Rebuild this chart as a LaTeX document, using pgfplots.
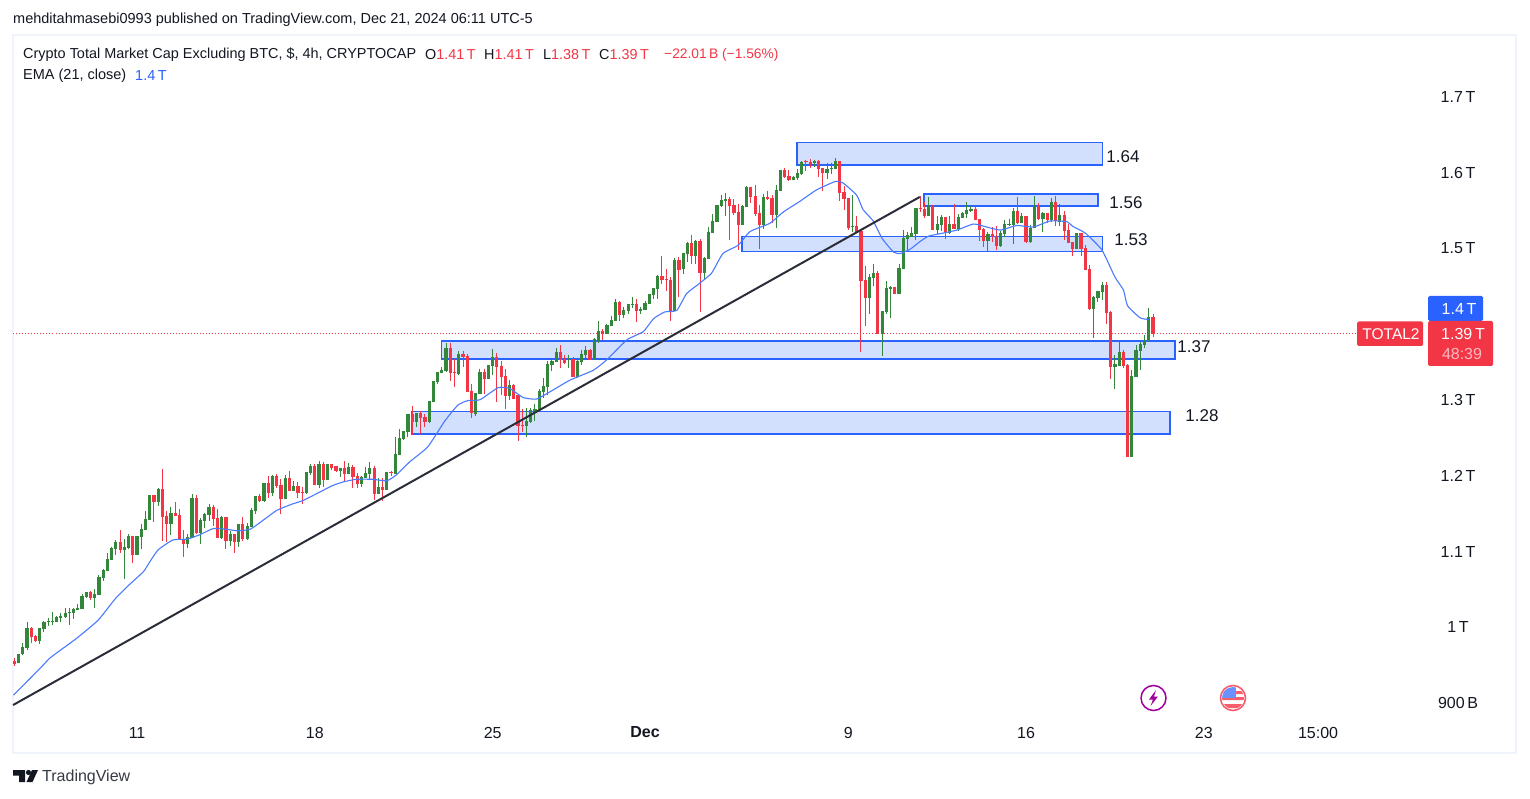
\documentclass[border=0pt]{standalone}
\usepackage{pgfplots}
\usepackage{pgfplotstable}
\usepackage{fontspec}
\pgfplotsset{compat=1.18}
\setmainfont{Liberation Sans}
\definecolor{tvgreen}{HTML}{33873A}
\definecolor{tvred}{HTML}{F23645}
\definecolor{tvblue}{HTML}{2962FF}
\definecolor{tvink}{HTML}{131722}
\definecolor{tvframe}{HTML}{F0F3FA}
\definecolor{zone}{HTML}{D2DFFD}
\pgfplotstableread{
x o h l c
1 951 964 951 964
2 964 978 962 973
3 971 1006 969 998
6 980 998 977 998
7 996 1007 993 1006
8 1005 1011 1000 1007
9 1006 1019 1002 1007
10 1006 1014 1006 1012
11 1011 1018 1006 1014
12 1012 1024 1011 1018
13 1017 1024 1002 1019
14 1018 1024 1010 1023
15 1022 1029 1022 1024
16 1023 1043 1023 1040
17 1039 1045 1037 1045
19 1037 1049 1024 1043
20 1041 1068 1041 1065
21 1064 1076 1060 1074
22 1073 1097 1073 1089
23 1087 1105 1087 1103
24 1102 1114 1094 1111
26 1101 1115 1062 1105
27 1103 1122 1102 1119
29 1094 1119 1094 1119
30 1118 1135 1102 1128
31 1127 1152 1127 1142
32 1140 1173 1140 1173
34 1164 1183 1159 1181
37 1135 1158 1121 1150
41 1109 1122 1103 1118
42 1117 1175 1117 1169
44 1123 1143 1109 1140
45 1139 1150 1130 1148
46 1147 1161 1139 1158
49 1117 1146 1115 1144
51 1113 1126 1106 1122
53 1111 1135 1105 1135
55 1115 1136 1114 1132
56 1131 1156 1131 1154
57 1152 1172 1148 1172
59 1165 1189 1164 1189
61 1176 1200 1172 1198
64 1168 1200 1168 1196
66 1179 1192 1179 1185
69 1176 1204 1175 1204
70 1202 1214 1200 1212
72 1187 1218 1183 1214
74 1193 1214 1193 1214
77 1205 1209 1197 1209
79 1201 1216 1201 1210
82 1188 1198 1184 1197
83 1196 1210 1196 1202
84 1201 1217 1194 1209
86 1175 1196 1175 1184
88 1180 1204 1180 1204
90 1201 1250 1201 1227
91 1226 1260 1226 1249
92 1247 1258 1246 1258
93 1257 1280 1250 1280
95 1270 1282 1263 1282
98 1270 1297 1268 1297
99 1296 1324 1296 1324
100 1323 1336 1320 1336
101 1334 1342 1334 1338
102 1337 1374 1336 1367
105 1333 1363 1332 1359
109 1280 1308 1278 1308
110 1307 1340 1307 1336
112 1326 1345 1326 1345
113 1344 1366 1332 1356
117 1304 1325 1299 1319
121 1264 1288 1250 1271
122 1270 1288 1268 1285
123 1282 1293 1271 1287
124 1285 1313 1285 1311
125 1309 1328 1301 1317
126 1316 1350 1305 1346
127 1345 1352 1337 1350
128 1349 1367 1349 1362
131 1351 1358 1341 1353
133 1329 1352 1328 1350
134 1349 1365 1345 1359
135 1358 1370 1352 1365
137 1352 1381 1352 1379
138 1378 1403 1374 1390
140 1386 1399 1386 1398
141 1396 1410 1396 1404
142 1403 1432 1403 1428
144 1411 1422 1407 1418
145 1416 1425 1412 1425
146 1424 1435 1420 1425
148 1416 1422 1412 1419
149 1418 1429 1418 1427
150 1425 1439 1425 1439
151 1437 1447 1432 1447
152 1445 1464 1432 1462
156 1416 1486 1416 1484
158 1472 1493 1465 1493
159 1491 1507 1481 1506
161 1489 1510 1478 1509
163 1466 1488 1457 1486
164 1485 1527 1485 1521
165 1519 1544 1519 1535
166 1534 1556 1534 1556
167 1555 1569 1554 1563
168 1561 1572 1542 1564
172 1530 1556 1530 1555
173 1554 1581 1554 1580
177 1530 1571 1524 1567
180 1543 1583 1526 1576
181 1575 1602 1575 1602
184 1589 1594 1589 1593
185 1592 1604 1589 1598
186 1597 1614 1596 1613
189 1611 1616 1606 1614
192 1598 1612 1590 1604
193 1603 1612 1597 1605
194 1604 1618 1604 1614
198 1527 1569 1521 1528
202 1433 1465 1412 1461
203 1460 1478 1449 1466
205 1386 1416 1357 1416
206 1415 1456 1412 1447
207 1445 1449 1407 1448
209 1439 1478 1439 1473
210 1472 1523 1472 1513
211 1511 1521 1495 1517
212 1514 1527 1514 1519
213 1518 1552 1510 1552
216 1542 1567 1542 1555
218 1523 1542 1518 1531
219 1530 1543 1522 1540
221 1519 1542 1518 1531
223 1524 1544 1522 1540
224 1539 1547 1539 1546
225 1544 1560 1539 1550
226 1548 1555 1547 1551
230 1509 1521 1495 1518
233 1502 1522 1501 1519
234 1518 1536 1514 1531
235 1530 1538 1528 1531
236 1530 1552 1505 1548
238 1532 1546 1532 1542
240 1507 1530 1506 1526
241 1526 1568 1526 1556
243 1538 1547 1521 1546
245 1536 1565 1534 1560
247 1534 1557 1528 1543
251 1498 1519 1498 1519
255 1419 1436 1381 1435
256 1433 1443 1428 1443
257 1441 1455 1431 1451
260 1342 1358 1313 1346
261 1344 1375 1344 1362
264 1224 1338 1224 1330
265 1329 1371 1329 1365
266 1363 1375 1338 1373
267 1371 1385 1367 1377
268 1377 1420 1377 1408
}\greencandles
\pgfplotstableread{
x o h l c
0 954 958 947 950
4 998 999 978 986
5 987 989 979 980
18 1045 1047 1035 1037
25 1111 1127 1097 1101
28 1119 1119 1084 1094
33 1173 1173 1138 1164
35 1181 1208 1113 1144
36 1146 1152 1111 1135
38 1150 1164 1146 1146
39 1147 1155 1114 1114
40 1115 1127 1091 1109
43 1169 1173 1122 1123
47 1158 1160 1132 1142
48 1143 1155 1117 1117
50 1144 1144 1102 1113
52 1122 1122 1097 1111
54 1135 1144 1113 1115
58 1172 1175 1164 1165
60 1189 1198 1169 1176
62 1198 1201 1183 1185
63 1187 1194 1148 1168
65 1196 1205 1179 1179
67 1185 1191 1169 1176
68 1177 1184 1161 1176
71 1212 1214 1187 1187
73 1214 1217 1184 1193
75 1214 1214 1206 1209
76 1212 1212 1204 1205
78 1209 1218 1191 1201
80 1210 1213 1183 1197
81 1198 1202 1183 1188
85 1209 1212 1167 1175
87 1184 1196 1165 1180
89 1204 1205 1198 1202
94 1280 1291 1253 1270
96 1282 1284 1254 1275
97 1276 1280 1263 1270
103 1367 1374 1324 1334
104 1336 1353 1316 1334
106 1359 1363 1342 1355
107 1357 1359 1309 1309
108 1311 1320 1275 1281
111 1336 1340 1307 1326
114 1356 1361 1296 1342
115 1344 1350 1305 1329
116 1330 1340 1287 1304
118 1319 1320 1300 1300
119 1305 1305 1245 1264
120 1266 1287 1257 1264
129 1362 1371 1341 1352
130 1353 1358 1346 1348
132 1353 1356 1329 1329
136 1365 1366 1352 1352
139 1390 1392 1378 1386
143 1428 1429 1403 1411
147 1425 1432 1402 1416
153 1462 1489 1452 1457
154 1458 1472 1443 1457
155 1457 1461 1403 1416
157 1484 1488 1435 1470
160 1506 1517 1478 1489
162 1509 1511 1415 1466
169 1564 1567 1510 1555
170 1556 1564 1543 1546
171 1547 1557 1497 1530
174 1580 1580 1559 1567
175 1568 1583 1542 1544
176 1546 1556 1498 1530
178 1567 1575 1563 1564
179 1565 1569 1532 1543
182 1602 1605 1592 1593
183 1594 1602 1588 1589
187 1614 1616 1601 1613
188 1613 1617 1605 1610
190 1614 1616 1593 1604
191 1605 1605 1575 1598
195 1614 1614 1561 1572
196 1573 1581 1550 1564
197 1565 1565 1523 1526
199 1528 1542 1521 1521
200 1522 1524 1362 1456
201 1457 1476 1396 1433
204 1466 1469 1386 1386
208 1448 1448 1439 1439
214 1552 1568 1547 1551
215 1551 1560 1539 1542
217 1555 1556 1523 1523
220 1540 1540 1511 1521
222 1531 1557 1524 1524
227 1551 1555 1536 1536
228 1538 1538 1509 1523
229 1524 1526 1501 1509
231 1518 1527 1507 1514
232 1515 1528 1497 1502
237 1548 1567 1531 1532
239 1542 1542 1506 1507
242 1556 1559 1536 1538
244 1546 1546 1532 1536
246 1560 1568 1528 1535
248 1543 1548 1510 1522
249 1523 1531 1506 1506
250 1507 1507 1489 1498
252 1519 1519 1489 1498
253 1499 1503 1470 1470
254 1472 1477 1418 1419
258 1451 1455 1399 1414
259 1415 1416 1326 1342
262 1362 1365 1341 1344
263 1345 1346 1223 1224
269 1408 1412 1382 1386
}\redcandles
\newcommand{\fs}[1]{\fontsize{#1}{#1}\selectfont}
\begin{document}
\begin{tikzpicture}[x=1pt,y=1pt]
\useasboundingbox (0,0) rectangle (1530,798);
\fill[white] (0,0) rectangle (1530,798);
\begin{axis}[
  at={(13.5pt,45pt)},anchor=south west,
  scale only axis,width=1502.5pt,height=718pt,
  xmin=-0.19,xmax=354.76,ymin=832.7,ymax=1780.5,
  axis line style={draw=tvframe,line width=2pt},
  clip=false,
  major tick length=0pt,
  xtick={29,71,113,149,197,239,281,308},
  xticklabels={11,18,25,{\bfseries Dec},9,16,23,15:00},
  xticklabel style={anchor=center,yshift=20.5pt,font=\fs{16},text=tvink},
  ytick={900,1000,1100,1200,1300,1400,1500,1600,1700},
  yticklabels={900\,B,1\,T,1.1\,T,1.2\,T,1.3\,T,{},1.5\,T,1.6\,T,1.7\,T},
  yticklabel pos=right,
  yticklabel style={anchor=center,xshift=-58pt,yshift=-1pt,font=\fs{16},text=tvink},
]
% zones
\addplot[draw=tvblue,line width=1.2pt,fill=zone] coordinates {(184.9,1639) (257,1639) (257,1609) (184.9,1609)} -- cycle;
\addplot[draw=tvblue,line width=1.2pt,fill=zone] coordinates {(214.9,1570.6) (256,1570.6) (256,1554.8) (214.9,1554.8)} -- cycle;
\addplot[draw=tvblue,line width=1.2pt,fill=zone] coordinates {(171.9,1515) (257,1515) (257,1495) (171.9,1495)} -- cycle;
\addplot[draw=tvblue,line width=1.2pt,fill=zone] coordinates {(101,1376.6) (274.2,1376.6) (274.2,1352.8) (101,1352.8)} -- cycle;
\addplot[draw=tvblue,line width=1.2pt,fill=zone] coordinates {(93.9,1283) (273,1283) (273,1253.8) (93.9,1253.8)} -- cycle;
% last price line
\addplot[tvred,line width=0.9pt,dash pattern=on 1pt off 2pt] coordinates {(-0.19,1386.8) (317,1386.8)};
% candles: wicks then bodies
\addplot[draw=none,no markers,error bars/.cd,y dir=minus,y explicit,error mark=none,error bar style={draw=tvgreen,line width=1pt}]
  table[x=x,y=h,y error minus expr=\thisrow{h}-\thisrow{l}] {\greencandles};
\addplot[draw=none,no markers,error bars/.cd,y dir=minus,y explicit,error mark=none,error bar style={draw=tvgreen,line width=3.2pt}]
  table[x=x,y=c,y error minus expr=\thisrow{c}-\thisrow{o}] {\greencandles};
\addplot[draw=none,no markers,error bars/.cd,y dir=minus,y explicit,error mark=none,error bar style={draw=tvred,line width=1pt}]
  table[x=x,y=h,y error minus expr=\thisrow{h}-\thisrow{l}] {\redcandles};
\addplot[draw=none,no markers,error bars/.cd,y dir=minus,y explicit,error mark=none,error bar style={draw=tvred,line width=3.2pt}]
  table[x=x,y=o,y error minus expr=\thisrow{o}-\thisrow{c}] {\redcandles};
% EMA
\addplot[tvblue!85,line width=1.1pt,smooth,tension=0.3] coordinates {
(-0.2,909) (6,944) (8.4,958) (10.8,968) (14.7,984) (19.8,1008) (23.8,1036) (27,1054) (30.5,1072) (32,1085) (34,1101) (37.5,1114) (40.8,1115) (43.9,1121) (47,1129) (50.2,1128) (52.6,1126) (55.7,1128) (58.8,1140) (62,1153) (65.5,1161) (68.2,1166) (71.4,1175) (75.3,1186) (78,1191) (80.9,1194) (84.7,1194) (88,1192) (90.3,1200) (93.4,1217) (97.7,1237) (101.7,1271) (104.8,1292) (107.2,1298) (110,1299) (114.3,1315) (117,1314) (120.2,1302) (123.4,1300) (127.3,1312) (131.3,1325) (136.8,1338) (140,1352) (144.7,1378) (148.6,1389) (151,1406) (153.7,1415) (156.5,1417) (158.8,1439) (161.5,1451) (164.7,1466) (167.4,1492) (171,1503) (173.8,1521) (178.5,1532) (181.7,1547) (185.6,1561) (189.5,1576) (193.9,1587) (195.8,1585) (199,1569) (200.5,1550) (202.9,1535) (205,1512) (207.7,1494) (209.3,1492) (211.7,1498) (214,1508) (216,1515) (219.4,1519) (222.7,1523) (226.6,1531) (229.7,1527) (233,1523) (236.8,1529) (240.7,1527) (244.7,1535) (248.7,1534) (250,1528) (253,1519) (256.9,1497) (260,1461) (262,1444) (263,1423) (266,1407) (268,1405)};
% trend line
\addplot[tvink!90,line width=2pt] coordinates {(-0.3,896) (213.9,1566.7)};
\end{axis}
\begin{scope}[shift={(0,798)},y=-1pt]
\node[anchor=west,inner sep=0,text=tvink,font=\fs{14.5}] at (13,19.5) {mehditahmasebi0993 published on TradingView.com, Dec 21, 2024 06:11 UTC-5};
\node[anchor=west,inner sep=0,text=tvink,font=\fs{14.45}] at (23,54.5) {Crypto Total Market Cap Excluding BTC, \$, 4h, CRYPTOCAP};
\node[anchor=west,inner sep=0,text=tvink,font=\fs{14.4}] at (425,54.5) {O\textcolor{tvred}{1.41\,T}};
\node[anchor=west,inner sep=0,text=tvink,font=\fs{14.4}] at (484,54.5) {H\textcolor{tvred}{1.41\,T}};
\node[anchor=west,inner sep=0,text=tvink,font=\fs{14.4}] at (543,54.5) {L\textcolor{tvred}{1.38\,T}};
\node[anchor=west,inner sep=0,text=tvink,font=\fs{14.4}] at (599,54.5) {C\textcolor{tvred}{1.39\,T}};
\node[anchor=west,inner sep=0,text=tvred,font=\fs{13.8}] at (664,54.5) {−22.01\,B (−1.56\%)};
\node[anchor=west,inner sep=0,text=tvink,font=\fs{14.5}] at (23,75.5) {EMA (21, close)};
\node[anchor=west,inner sep=0,text=tvblue,font=\fs{14.5}] at (135,75.5) {1.4\,T};
% zone labels
\foreach \t/\xx/\yy in {1.64/1123/157,1.56/1126/203,1.53/1131/240,1.37/1194/347,1.28/1202/416}
  \node[text=tvink,font=\fs{17},inner sep=0] at (\xx,\yy) {\t};
% price tags
\fill[tvblue,rounded corners=1.5pt] (1428,296) rectangle (1483,321);
\node[white,font=\fs{16},inner sep=0] at (1459,309) {1.4\,T};
\fill[tvred,rounded corners=1.5pt] (1357,321.5) rectangle (1423,346);
\node[white,font=\fs{15.5},inner sep=0] at (1391,334) {TOTAL2};
\fill[tvred,rounded corners=1.5pt] (1428,321) rectangle (1493,366);
\node[white,font=\fs{16},inner sep=0] at (1463,334) {1.39\,T};
\node[white,opacity=.65,font=\fs{16},inner sep=0] at (1462,354) {48:39};
% event icons
\draw[color=violet!75!magenta,line width=1.5pt,fill=white] (1153.5,698) circle (12.5);
\fill[color=violet!75!magenta] (1156,690) -- (1149,699.5) -- (1153,699.5) -- (1150.5,706) -- (1158,696.5) -- (1154,696.5) -- cycle;
\begin{scope}
\clip (1233,698) circle (11);
\fill[white] (1220,685) rectangle (1246,711);
\fill[tvred!80] (1220,691) rectangle (1246,694) (1220,697) rectangle (1246,700) (1220,704) rectangle (1246,708);
\fill[tvblue!70] (1220,685) rectangle (1236,698);
\end{scope}
\draw[tvred!80,line width=1.6pt] (1233,698) circle (12.5);
% TradingView footer
\fill[tvink] (13,770) -- (25,770) -- (25,782) -- (19,782) -- (19,775.5) -- (13,775.5) -- cycle;
\fill[tvink] (28.5,772.5) circle (2.6);
\fill[tvink] (32,770) -- (38,770) -- (32.5,782) -- (26.5,782) -- cycle;
\node[anchor=west,inner sep=0,text=tvink!85,font=\fs{16}] at (42,777.5) {TradingView};
\end{scope}
\end{tikzpicture}
\end{document}
